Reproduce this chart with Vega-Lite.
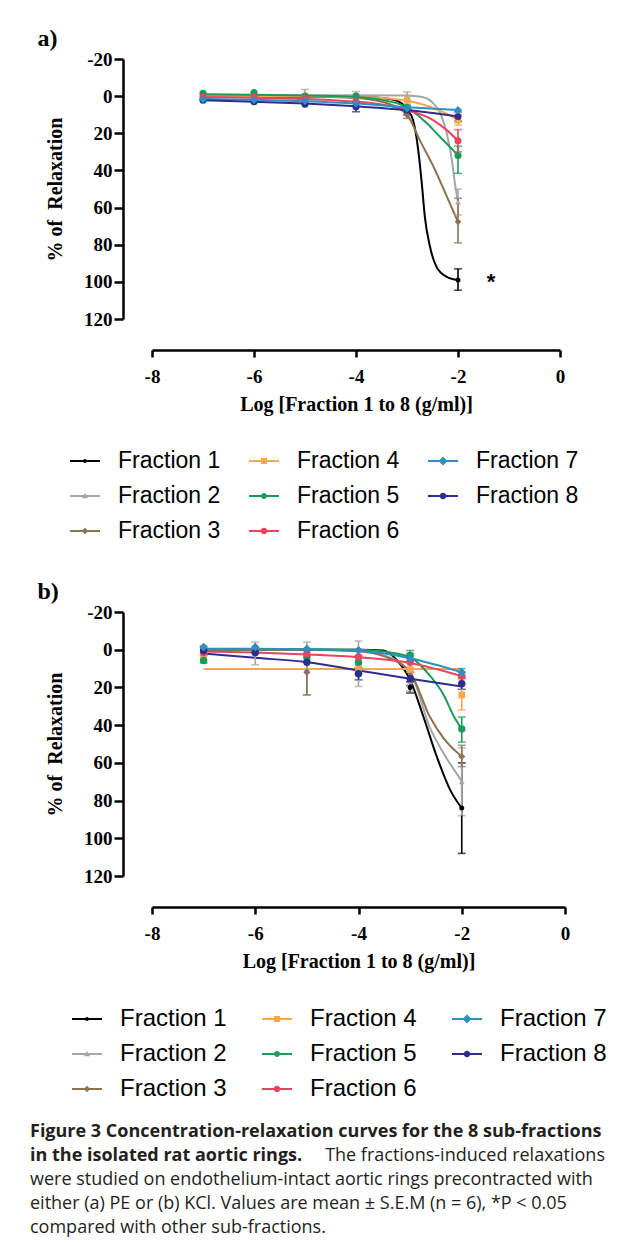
{
  "$schema": "https://vega.github.io/schema/vega-lite/v6.json",
  "background": "white",
  "padding": {"left": 30, "top": 27, "right": 0, "bottom": 0},
  "config": {
    "view": {"stroke": null},
    "axis": {
      "grid": false,
      "domainColor": "#000", "domainWidth": 2.5,
      "tickColor": "#000", "tickWidth": 2.5,
      "labelFont": "Liberation Serif", "labelFontSize": 19, "labelFontWeight": "bold", "labelColor": "#000",
      "titleFont": "Liberation Serif", "titleFontSize": 20, "titleFontWeight": "bold", "titleColor": "#000",
      "labelFlush": false
    },
    "axisX": {"offset": 31, "tickSize": 7, "labelPadding": 10, "titlePadding": 8},
    "axisY": {"offset": 29, "tickSize": 9, "labelPadding": 2, "titlePadding": 18}
  },
  "datasets": {
    "curvesA": [
      {"Fraction": "Fraction 1", "logc": -7, "v": 0.3}, {"Fraction": "Fraction 1", "logc": -6, "v": 0.3}, {"Fraction": "Fraction 1", "logc": -5, "v": 0.3}, {"Fraction": "Fraction 1", "logc": -4, "v": 0.5}, {"Fraction": "Fraction 1", "logc": -3.5, "v": 1}, {"Fraction": "Fraction 1", "logc": -3.2, "v": 2.5}, {"Fraction": "Fraction 1", "logc": -3, "v": 7}, {"Fraction": "Fraction 1", "logc": -2.88, "v": 13}, {"Fraction": "Fraction 1", "logc": -2.78, "v": 29}, {"Fraction": "Fraction 1", "logc": -2.71, "v": 47}, {"Fraction": "Fraction 1", "logc": -2.65, "v": 65}, {"Fraction": "Fraction 1", "logc": -2.55, "v": 81}, {"Fraction": "Fraction 1", "logc": -2.42, "v": 92}, {"Fraction": "Fraction 1", "logc": -2.22, "v": 97.3}, {"Fraction": "Fraction 1", "logc": -2, "v": 99},
      {"Fraction": "Fraction 2", "logc": -7, "v": -0.5}, {"Fraction": "Fraction 2", "logc": -5, "v": -0.5}, {"Fraction": "Fraction 2", "logc": -4, "v": -0.5}, {"Fraction": "Fraction 2", "logc": -3, "v": -0.3}, {"Fraction": "Fraction 2", "logc": -2.7, "v": 0.5}, {"Fraction": "Fraction 2", "logc": -2.48, "v": 4}, {"Fraction": "Fraction 2", "logc": -2.35, "v": 9}, {"Fraction": "Fraction 2", "logc": -2.22, "v": 20}, {"Fraction": "Fraction 2", "logc": -2.12, "v": 34.5}, {"Fraction": "Fraction 2", "logc": -2.06, "v": 47}, {"Fraction": "Fraction 2", "logc": -2, "v": 57},
      {"Fraction": "Fraction 3", "logc": -7, "v": 0}, {"Fraction": "Fraction 3", "logc": -5, "v": 0.2}, {"Fraction": "Fraction 3", "logc": -4, "v": 1}, {"Fraction": "Fraction 3", "logc": -3.5, "v": 3}, {"Fraction": "Fraction 3", "logc": -3, "v": 10}, {"Fraction": "Fraction 3", "logc": -2.75, "v": 23.7}, {"Fraction": "Fraction 3", "logc": -2.48, "v": 38}, {"Fraction": "Fraction 3", "logc": -2.22, "v": 54}, {"Fraction": "Fraction 3", "logc": -2, "v": 67.7},
      {"Fraction": "Fraction 4", "logc": -7, "v": 0}, {"Fraction": "Fraction 4", "logc": -5, "v": 0}, {"Fraction": "Fraction 4", "logc": -4, "v": 0.3}, {"Fraction": "Fraction 4", "logc": -3.5, "v": 1}, {"Fraction": "Fraction 4", "logc": -3, "v": 2.5}, {"Fraction": "Fraction 4", "logc": -2.75, "v": 4}, {"Fraction": "Fraction 4", "logc": -2.48, "v": 6.5}, {"Fraction": "Fraction 4", "logc": -2.22, "v": 9.5}, {"Fraction": "Fraction 4", "logc": -2, "v": 13},
      {"Fraction": "Fraction 5", "logc": -7, "v": -1}, {"Fraction": "Fraction 5", "logc": -6, "v": -0.8}, {"Fraction": "Fraction 5", "logc": -5, "v": -0.3}, {"Fraction": "Fraction 5", "logc": -4, "v": 0.5}, {"Fraction": "Fraction 5", "logc": -3.5, "v": 2}, {"Fraction": "Fraction 5", "logc": -3, "v": 6}, {"Fraction": "Fraction 5", "logc": -2.61, "v": 14.6}, {"Fraction": "Fraction 5", "logc": -2.35, "v": 22}, {"Fraction": "Fraction 5", "logc": -2.16, "v": 27.3}, {"Fraction": "Fraction 5", "logc": -2, "v": 32},
      {"Fraction": "Fraction 6", "logc": -7, "v": 0.5}, {"Fraction": "Fraction 6", "logc": -6, "v": 0.8}, {"Fraction": "Fraction 6", "logc": -5, "v": 1.5}, {"Fraction": "Fraction 6", "logc": -4, "v": 3}, {"Fraction": "Fraction 6", "logc": -3.5, "v": 4.5}, {"Fraction": "Fraction 6", "logc": -3, "v": 7.5}, {"Fraction": "Fraction 6", "logc": -2.48, "v": 13}, {"Fraction": "Fraction 6", "logc": -2.22, "v": 18.3}, {"Fraction": "Fraction 6", "logc": -2, "v": 24},
      {"Fraction": "Fraction 7", "logc": -7, "v": 1.5}, {"Fraction": "Fraction 7", "logc": -6, "v": 2}, {"Fraction": "Fraction 7", "logc": -5, "v": 2.8}, {"Fraction": "Fraction 7", "logc": -4, "v": 4}, {"Fraction": "Fraction 7", "logc": -3, "v": 6}, {"Fraction": "Fraction 7", "logc": -2, "v": 7.5},
      {"Fraction": "Fraction 8", "logc": -7, "v": 2.2}, {"Fraction": "Fraction 8", "logc": -6, "v": 3}, {"Fraction": "Fraction 8", "logc": -5, "v": 4}, {"Fraction": "Fraction 8", "logc": -4, "v": 5.5}, {"Fraction": "Fraction 8", "logc": -3, "v": 7.5}, {"Fraction": "Fraction 8", "logc": -2, "v": 11}
    ],
    "ptsA": [
      {"Fraction": "Fraction 1", "logc": -7, "v": 0}, {"Fraction": "Fraction 1", "logc": -6, "v": 0}, {"Fraction": "Fraction 1", "logc": -5, "v": 0}, {"Fraction": "Fraction 1", "logc": -4, "v": 0.5}, {"Fraction": "Fraction 1", "logc": -3, "v": 9}, {"Fraction": "Fraction 1", "logc": -2, "v": 99, "lo": 93, "hi": 104.5},
      {"Fraction": "Fraction 2", "logc": -7, "v": 0}, {"Fraction": "Fraction 2", "logc": -6, "v": 0}, {"Fraction": "Fraction 2", "logc": -5, "v": -0.5, "lo": -3.6, "hi": 2}, {"Fraction": "Fraction 2", "logc": -4, "v": -0.5, "lo": -2.5, "hi": 1.5}, {"Fraction": "Fraction 2", "logc": -3, "v": -0.3, "lo": -2.3, "hi": 2}, {"Fraction": "Fraction 2", "logc": -2, "v": 57, "lo": 50, "hi": 64},
      {"Fraction": "Fraction 3", "logc": -7, "v": 0}, {"Fraction": "Fraction 3", "logc": -6, "v": 0}, {"Fraction": "Fraction 3", "logc": -5, "v": 0.5}, {"Fraction": "Fraction 3", "logc": -4, "v": 1}, {"Fraction": "Fraction 3", "logc": -3, "v": 10, "lo": 7, "hi": 12}, {"Fraction": "Fraction 3", "logc": -2, "v": 67.7, "lo": 55, "hi": 79},
      {"Fraction": "Fraction 4", "logc": -7, "v": 0}, {"Fraction": "Fraction 4", "logc": -6, "v": 0}, {"Fraction": "Fraction 4", "logc": -5, "v": 0}, {"Fraction": "Fraction 4", "logc": -4, "v": 0}, {"Fraction": "Fraction 4", "logc": -3, "v": 2, "lo": -0.5, "hi": 4}, {"Fraction": "Fraction 4", "logc": -2, "v": 13, "lo": 10, "hi": 15.6},
      {"Fraction": "Fraction 5", "logc": -7, "v": -1.5}, {"Fraction": "Fraction 5", "logc": -6, "v": -2}, {"Fraction": "Fraction 5", "logc": -5, "v": 0}, {"Fraction": "Fraction 5", "logc": -4, "v": 0}, {"Fraction": "Fraction 5", "logc": -3, "v": 6}, {"Fraction": "Fraction 5", "logc": -2, "v": 32, "lo": 27, "hi": 41.6},
      {"Fraction": "Fraction 6", "logc": -7, "v": 0.5}, {"Fraction": "Fraction 6", "logc": -6, "v": 0.5}, {"Fraction": "Fraction 6", "logc": -5, "v": 1}, {"Fraction": "Fraction 6", "logc": -4, "v": 3}, {"Fraction": "Fraction 6", "logc": -3, "v": 7.5}, {"Fraction": "Fraction 6", "logc": -2, "v": 24, "lo": 18, "hi": 30},
      {"Fraction": "Fraction 7", "logc": -7, "v": 1.7}, {"Fraction": "Fraction 7", "logc": -6, "v": 2}, {"Fraction": "Fraction 7", "logc": -5, "v": 2.5}, {"Fraction": "Fraction 7", "logc": -4, "v": 4}, {"Fraction": "Fraction 7", "logc": -3, "v": 6.5}, {"Fraction": "Fraction 7", "logc": -2, "v": 7.5},
      {"Fraction": "Fraction 8", "logc": -7, "v": 2.2}, {"Fraction": "Fraction 8", "logc": -6, "v": 3}, {"Fraction": "Fraction 8", "logc": -5, "v": 4.3}, {"Fraction": "Fraction 8", "logc": -4, "v": 5.7, "lo": 3, "hi": 8.4}, {"Fraction": "Fraction 8", "logc": -3, "v": 7.5, "lo": 5, "hi": 10}, {"Fraction": "Fraction 8", "logc": -2, "v": 11, "lo": 8.5, "hi": 13.5}
    ],
    "curvesB": [
      {"Fraction": "Fraction 1", "logc": -7, "v": 0}, {"Fraction": "Fraction 1", "logc": -5, "v": 0}, {"Fraction": "Fraction 1", "logc": -4, "v": 0}, {"Fraction": "Fraction 1", "logc": -3.52, "v": 0.4}, {"Fraction": "Fraction 1", "logc": -3.25, "v": 5.7}, {"Fraction": "Fraction 1", "logc": -3, "v": 16}, {"Fraction": "Fraction 1", "logc": -2.74, "v": 35.7}, {"Fraction": "Fraction 1", "logc": -2.48, "v": 57}, {"Fraction": "Fraction 1", "logc": -2.22, "v": 74.6}, {"Fraction": "Fraction 1", "logc": -2, "v": 84},
      {"Fraction": "Fraction 2", "logc": -7, "v": 0}, {"Fraction": "Fraction 2", "logc": -5, "v": 0}, {"Fraction": "Fraction 2", "logc": -4, "v": 0.5}, {"Fraction": "Fraction 2", "logc": -3.5, "v": 3}, {"Fraction": "Fraction 2", "logc": -3, "v": 12}, {"Fraction": "Fraction 2", "logc": -2.61, "v": 41.7}, {"Fraction": "Fraction 2", "logc": -2.35, "v": 55}, {"Fraction": "Fraction 2", "logc": -2, "v": 69.6},
      {"Fraction": "Fraction 3", "logc": -7, "v": 0}, {"Fraction": "Fraction 3", "logc": -5, "v": 0}, {"Fraction": "Fraction 3", "logc": -4, "v": 0.8}, {"Fraction": "Fraction 3", "logc": -3.5, "v": 3.5}, {"Fraction": "Fraction 3", "logc": -3, "v": 12}, {"Fraction": "Fraction 3", "logc": -2.61, "v": 36}, {"Fraction": "Fraction 3", "logc": -2.35, "v": 47}, {"Fraction": "Fraction 3", "logc": -2, "v": 56.6},
      {"Fraction": "Fraction 4", "logc": -7, "v": 10.2}, {"Fraction": "Fraction 4", "logc": -2, "v": 10.2},
      {"Fraction": "Fraction 5", "logc": -7, "v": -0.3}, {"Fraction": "Fraction 5", "logc": -5, "v": -0.3}, {"Fraction": "Fraction 5", "logc": -4, "v": 0}, {"Fraction": "Fraction 5", "logc": -3.5, "v": 1}, {"Fraction": "Fraction 5", "logc": -3, "v": 4}, {"Fraction": "Fraction 5", "logc": -2.61, "v": 14}, {"Fraction": "Fraction 5", "logc": -2.35, "v": 24}, {"Fraction": "Fraction 5", "logc": -2.16, "v": 35}, {"Fraction": "Fraction 5", "logc": -2, "v": 42},
      {"Fraction": "Fraction 6", "logc": -7, "v": 1}, {"Fraction": "Fraction 6", "logc": -6, "v": 1.5}, {"Fraction": "Fraction 6", "logc": -5, "v": 2.5}, {"Fraction": "Fraction 6", "logc": -4, "v": 4}, {"Fraction": "Fraction 6", "logc": -3, "v": 7}, {"Fraction": "Fraction 6", "logc": -2, "v": 14},
      {"Fraction": "Fraction 7", "logc": -7, "v": -0.5}, {"Fraction": "Fraction 7", "logc": -6, "v": -0.5}, {"Fraction": "Fraction 7", "logc": -5, "v": -0.3}, {"Fraction": "Fraction 7", "logc": -4, "v": 0.5}, {"Fraction": "Fraction 7", "logc": -3, "v": 4.5}, {"Fraction": "Fraction 7", "logc": -2.5, "v": 8}, {"Fraction": "Fraction 7", "logc": -2, "v": 12},
      {"Fraction": "Fraction 8", "logc": -7, "v": 2}, {"Fraction": "Fraction 8", "logc": -6, "v": 4.3}, {"Fraction": "Fraction 8", "logc": -5, "v": 6.6}, {"Fraction": "Fraction 8", "logc": -4, "v": 11}, {"Fraction": "Fraction 8", "logc": -3, "v": 15.4}, {"Fraction": "Fraction 8", "logc": -2, "v": 19.5}
    ],
    "ptsB": [
      {"Fraction": "Fraction 1", "logc": -7, "v": 0}, {"Fraction": "Fraction 1", "logc": -6, "v": 0}, {"Fraction": "Fraction 1", "logc": -5, "v": 0}, {"Fraction": "Fraction 1", "logc": -4, "v": 0}, {"Fraction": "Fraction 1", "logc": -3, "v": 20, "lo": 17, "hi": 23}, {"Fraction": "Fraction 1", "logc": -2, "v": 84, "lo": 60, "hi": 108},
      {"Fraction": "Fraction 2", "logc": -7, "v": 0, "lo": -2, "hi": 2}, {"Fraction": "Fraction 2", "logc": -6, "v": 2, "lo": -4, "hi": 8}, {"Fraction": "Fraction 2", "logc": -5, "v": 10, "lo": -4, "hi": 24}, {"Fraction": "Fraction 2", "logc": -4, "v": 8, "lo": -4.6, "hi": 19.5}, {"Fraction": "Fraction 2", "logc": -3, "v": 17, "lo": 12, "hi": 22}, {"Fraction": "Fraction 2", "logc": -2, "v": 70, "lo": 52, "hi": 88},
      {"Fraction": "Fraction 3", "logc": -7, "v": 1}, {"Fraction": "Fraction 3", "logc": -6, "v": 2}, {"Fraction": "Fraction 3", "logc": -5, "v": 12, "lo": 0, "hi": 24}, {"Fraction": "Fraction 3", "logc": -4, "v": 8, "lo": 3, "hi": 13}, {"Fraction": "Fraction 3", "logc": -3, "v": 12, "lo": 2, "hi": 23}, {"Fraction": "Fraction 3", "logc": -2, "v": 56.6, "lo": 50.7, "hi": 62},
      {"Fraction": "Fraction 4", "logc": -7, "v": 4.7}, {"Fraction": "Fraction 4", "logc": -6, "v": 1}, {"Fraction": "Fraction 4", "logc": -5, "v": 4}, {"Fraction": "Fraction 4", "logc": -4, "v": 10}, {"Fraction": "Fraction 4", "logc": -3, "v": 10.5}, {"Fraction": "Fraction 4", "logc": -2, "v": 24, "lo": 16, "hi": 32},
      {"Fraction": "Fraction 5", "logc": -7, "v": 5.7, "lo": 3, "hi": 7}, {"Fraction": "Fraction 5", "logc": -6, "v": 1}, {"Fraction": "Fraction 5", "logc": -5, "v": 3.9}, {"Fraction": "Fraction 5", "logc": -4, "v": 6.6}, {"Fraction": "Fraction 5", "logc": -3, "v": 3, "lo": 0.4, "hi": 6}, {"Fraction": "Fraction 5", "logc": -2, "v": 42, "lo": 35.7, "hi": 49},
      {"Fraction": "Fraction 6", "logc": -7, "v": 1.5}, {"Fraction": "Fraction 6", "logc": -6, "v": 1.3}, {"Fraction": "Fraction 6", "logc": -5, "v": 2}, {"Fraction": "Fraction 6", "logc": -4, "v": 3.9}, {"Fraction": "Fraction 6", "logc": -3, "v": 6.6}, {"Fraction": "Fraction 6", "logc": -2, "v": 14},
      {"Fraction": "Fraction 7", "logc": -7, "v": -1.4}, {"Fraction": "Fraction 7", "logc": -6, "v": -1.4}, {"Fraction": "Fraction 7", "logc": -5, "v": -0.5}, {"Fraction": "Fraction 7", "logc": -4, "v": 0.4}, {"Fraction": "Fraction 7", "logc": -3, "v": 4.8}, {"Fraction": "Fraction 7", "logc": -2, "v": 11.9, "lo": 10, "hi": 14},
      {"Fraction": "Fraction 8", "logc": -7, "v": 0.4}, {"Fraction": "Fraction 8", "logc": -6, "v": 1.5}, {"Fraction": "Fraction 8", "logc": -5, "v": 6.6}, {"Fraction": "Fraction 8", "logc": -4, "v": 12.7, "lo": 9.5, "hi": 16}, {"Fraction": "Fraction 8", "logc": -3, "v": 15.4, "lo": 12, "hi": 19}, {"Fraction": "Fraction 8", "logc": -2, "v": 18, "lo": 15, "hi": 21}
    ],
    "noteA": [{"logc": -1.35, "v": 100, "label": "*"}],
    "caption": [
      {"line": 1, "part": "head", "text": "Figure 3 Concentration-relaxation curves for the 8 sub-fractions"},
      {"line": 2, "part": "head", "text": "in the isolated rat aortic rings."},
      {"line": 2, "part": "tail", "text": "The fractions-induced relaxations"},
      {"line": 3, "part": "body", "text": "were studied on endothelium-intact aortic rings precontracted with"},
      {"line": 4, "part": "body", "text": "either (a) PE or (b) KCl. Values are mean ± S.E.M (n = 6), *P < 0.05"},
      {"line": 5, "part": "body", "text": "compared with other sub-fractions."}
    ]
  },
  "spacing": 19,
  "vconcat": [
    {
      "spacing": 37,
      "resolve": {"legend": {"color": "independent", "shape": "independent"}},
      "vconcat": [
        {
          "title": {"text": "a)", "anchor": "start", "frame": "bounds", "font": "Liberation Serif", "fontSize": 24, "fontWeight": "bold", "color": "#000", "offset": -1, "dx": -8},
          "width": 408, "height": 260,
          "encoding": {
            "x": {"field": "logc", "type": "quantitative", "scale": {"domain": [-8, 0], "nice": false, "zero": false}, "axis": {"title": "Log [Fraction 1 to 8 (g/ml)]", "values": [-8, -6, -4, -2, 0], "labelExpr": "'' + datum.value"}},
            "y": {"field": "v", "type": "quantitative", "scale": {"domain": [-20, 120], "reverse": true, "nice": false, "zero": false}, "axis": {"title": "% of\u00a0 Relaxation", "values": [-20, 0, 20, 40, 60, 80, 100, 120], "labelExpr": "'' + datum.value"}}
          },
          "layer": [
            {"data": {"name": "ptsA"}, "transform": [{"filter": "false"}], "mark": {"type": "point", "filled": true, "opacity": 1},
             "encoding": {
               "color": {"field": "Fraction", "type": "nominal", "scale": {"domain": ["Fraction 1", "Fraction 2", "Fraction 3", "Fraction 4", "Fraction 5", "Fraction 6", "Fraction 7", "Fraction 8"], "range": ["#000000", "#a6a6a6", "#8c7153", "#f6a84c", "#1b9a5a", "#e8435f", "#2e8fc0", "#2c2e8f"]}, "legend": {"title": null, "orient": "none", "legendX": -82, "legendY": 387, "columns": 3, "symbolSize": 900, "symbolStrokeWidth": 0, "labelFont": "Liberation Sans", "labelFontSize": 23, "labelColor": "#000", "labelOffset": 18, "columnPadding": 28, "rowPadding": 8, "labelLimit": 300}},
               "shape": {"field": "Fraction", "type": "nominal", "scale": {"domain": ["Fraction 1", "Fraction 2", "Fraction 3", "Fraction 4", "Fraction 5", "Fraction 6", "Fraction 7", "Fraction 8"], "range": [
                 "M-1,-0.06H1V0.06H-1ZM0.13,0A0.13,0.13 0 1,1 -0.13,0A0.13,0.13 0 1,1 0.13,0Z",
                 "M-1,-0.06H1V0.06H-1ZM0,-0.2L0.2,0.15H-0.2Z",
                 "M-1,-0.06H1V0.06H-1ZM0,-0.22L0.22,0L0,0.22L-0.22,0Z",
                 "M-1,-0.06H1V0.06H-1ZM-0.2,-0.2H0.2V0.2H-0.2Z",
                 "M-1,-0.06H1V0.06H-1ZM0.2,0A0.2,0.2 0 1,1 -0.2,0A0.2,0.2 0 1,1 0.2,0Z",
                 "M-1,-0.06H1V0.06H-1ZM0.22,0A0.22,0.22 0 1,1 -0.22,0A0.22,0.22 0 1,1 0.22,0Z",
                 "M-1,-0.06H1V0.06H-1ZM0,-0.3L0.3,0L0,0.3L-0.3,0Z",
                 "M-1,-0.06H1V0.06H-1ZM0.22,0A0.22,0.22 0 1,1 -0.22,0A0.22,0.22 0 1,1 0.22,0Z"
               ]}, "legend": {"title": null, "orient": "none", "legendX": -82, "legendY": 387, "columns": 3, "symbolSize": 900, "symbolStrokeWidth": 0, "labelFont": "Liberation Sans", "labelFontSize": 23, "labelColor": "#000", "labelOffset": 18, "columnPadding": 28, "rowPadding": 8, "labelLimit": 300}}
             }},
            {"data": {"name": "curvesA"}, "mark": {"type": "line", "strokeWidth": 2, "interpolate": "monotone"}, "encoding": {"color": {"field": "Fraction", "type": "nominal", "legend": null}}},
            {"data": {"name": "ptsA"}, "transform": [{"filter": "isValid(datum.lo)"}], "mark": {"type": "errorbar", "ticks": {"size": 8}, "thickness": 1.6}, "encoding": {"y": {"field": "lo", "type": "quantitative", "title": "% of\u00a0 Relaxation"}, "y2": {"field": "hi"}, "color": {"field": "Fraction", "type": "nominal", "legend": null}}},
            {"data": {"name": "ptsA"}, "transform": [{"filter": {"field": "Fraction", "oneOf": ["Fraction 1"]}}], "mark": {"type": "point", "shape": "circle", "filled": true, "opacity": 1, "size": 25}, "encoding": {"color": {"field": "Fraction", "type": "nominal", "legend": null}}},
            {"data": {"name": "ptsA"}, "transform": [{"filter": {"field": "Fraction", "oneOf": ["Fraction 2"]}}], "mark": {"type": "point", "shape": "triangle-up", "filled": true, "opacity": 1, "size": 35}, "encoding": {"color": {"field": "Fraction", "type": "nominal", "legend": null}}},
            {"data": {"name": "ptsA"}, "transform": [{"filter": {"field": "Fraction", "oneOf": ["Fraction 3"]}}], "mark": {"type": "point", "shape": "diamond", "filled": true, "opacity": 1, "size": 45}, "encoding": {"color": {"field": "Fraction", "type": "nominal", "legend": null}}},
            {"data": {"name": "ptsA"}, "transform": [{"filter": {"field": "Fraction", "oneOf": ["Fraction 4"]}}], "mark": {"type": "point", "shape": "square", "filled": true, "opacity": 1, "size": 40}, "encoding": {"color": {"field": "Fraction", "type": "nominal", "legend": null}}},
            {"data": {"name": "ptsA"}, "transform": [{"filter": {"field": "Fraction", "oneOf": ["Fraction 5", "Fraction 6", "Fraction 8"]}}], "mark": {"type": "point", "shape": "circle", "filled": true, "opacity": 1, "size": 50}, "encoding": {"color": {"field": "Fraction", "type": "nominal", "legend": null}}},
            {"data": {"name": "ptsA"}, "transform": [{"filter": {"field": "Fraction", "oneOf": ["Fraction 7"]}}], "mark": {"type": "point", "shape": "diamond", "filled": true, "opacity": 1, "size": 70}, "encoding": {"color": {"field": "Fraction", "type": "nominal", "legend": null}}},
            {"data": {"name": "noteA"}, "mark": {"type": "text", "font": "Liberation Sans", "fontSize": 22, "fontWeight": "bold", "color": "#000", "baseline": "middle", "align": "center"}, "encoding": {"text": {"field": "label"}}}
          ]
        },
        {
          "title": {"text": "b)", "anchor": "start", "frame": "bounds", "font": "Liberation Serif", "fontSize": 24, "fontWeight": "bold", "color": "#000", "offset": -1, "dx": -8},
          "width": 413, "height": 264,
          "encoding": {
            "x": {"field": "logc", "type": "quantitative", "scale": {"domain": [-8, 0], "nice": false, "zero": false}, "axis": {"title": "Log [Fraction 1 to 8 (g/ml)]", "values": [-8, -6, -4, -2, 0], "labelExpr": "'' + datum.value"}},
            "y": {"field": "v", "type": "quantitative", "scale": {"domain": [-20, 120], "reverse": true, "nice": false, "zero": false}, "axis": {"title": "% of\u00a0 Relaxation", "values": [-20, 0, 20, 40, 60, 80, 100, 120], "labelExpr": "'' + datum.value"}}
          },
          "layer": [
            {"data": {"name": "ptsB"}, "transform": [{"filter": "false"}], "mark": {"type": "point", "filled": true, "opacity": 1},
             "encoding": {
               "color": {"field": "Fraction", "type": "nominal", "legend": {"title": null, "orient": "none", "legendX": -80, "legendY": 392, "columns": 3, "symbolSize": 900, "symbolStrokeWidth": 0, "labelFont": "Liberation Sans", "labelFontSize": 24, "labelColor": "#000", "labelOffset": 18, "columnPadding": 35, "rowPadding": 8, "labelLimit": 300}},
               "shape": {"field": "Fraction", "type": "nominal", "legend": {"title": null, "orient": "none", "legendX": -80, "legendY": 392, "columns": 3, "symbolSize": 900, "symbolStrokeWidth": 0, "labelFont": "Liberation Sans", "labelFontSize": 24, "labelColor": "#000", "labelOffset": 18, "columnPadding": 35, "rowPadding": 8, "labelLimit": 300}}
             }},
            {"data": {"name": "curvesB"}, "mark": {"type": "line", "strokeWidth": 2, "interpolate": "monotone"}, "encoding": {"color": {"field": "Fraction", "type": "nominal", "legend": null}}},
            {"data": {"name": "ptsB"}, "transform": [{"filter": "isValid(datum.lo)"}], "mark": {"type": "errorbar", "ticks": {"size": 8}, "thickness": 1.6}, "encoding": {"y": {"field": "lo", "type": "quantitative", "title": "% of\u00a0 Relaxation"}, "y2": {"field": "hi"}, "color": {"field": "Fraction", "type": "nominal", "legend": null}}},
            {"data": {"name": "ptsB"}, "transform": [{"filter": {"field": "Fraction", "oneOf": ["Fraction 1"]}}], "mark": {"type": "point", "shape": "circle", "filled": true, "opacity": 1, "size": 25}, "encoding": {"color": {"field": "Fraction", "type": "nominal", "legend": null}}},
            {"data": {"name": "ptsB"}, "transform": [{"filter": {"field": "Fraction", "oneOf": ["Fraction 2"]}}], "mark": {"type": "point", "shape": "triangle-up", "filled": true, "opacity": 1, "size": 35}, "encoding": {"color": {"field": "Fraction", "type": "nominal", "legend": null}}},
            {"data": {"name": "ptsB"}, "transform": [{"filter": {"field": "Fraction", "oneOf": ["Fraction 3"]}}], "mark": {"type": "point", "shape": "diamond", "filled": true, "opacity": 1, "size": 50}, "encoding": {"color": {"field": "Fraction", "type": "nominal", "legend": null}}},
            {"data": {"name": "ptsB"}, "transform": [{"filter": {"field": "Fraction", "oneOf": ["Fraction 4"]}}], "mark": {"type": "point", "shape": "square", "filled": true, "opacity": 1, "size": 45}, "encoding": {"color": {"field": "Fraction", "type": "nominal", "legend": null}}},
            {"data": {"name": "ptsB"}, "transform": [{"filter": {"field": "Fraction", "oneOf": ["Fraction 5", "Fraction 6", "Fraction 8"]}}], "mark": {"type": "point", "shape": "circle", "filled": true, "opacity": 1, "size": 55}, "encoding": {"color": {"field": "Fraction", "type": "nominal", "legend": null}}},
            {"data": {"name": "ptsB"}, "transform": [{"filter": {"field": "Fraction", "oneOf": ["Fraction 7"]}}], "mark": {"type": "point", "shape": "diamond", "filled": true, "opacity": 1, "size": 75}, "encoding": {"color": {"field": "Fraction", "type": "nominal", "legend": null}}}
          ]
        }
      ]
    },
    {
      "width": 575, "height": 120,
      "data": {"name": "caption"},
      "encoding": {
        "y": {"field": "line", "type": "ordinal", "axis": null, "scale": {"paddingInner": 0, "paddingOuter": 0}},
        "text": {"field": "text"}
      },
      "layer": [
        {"transform": [{"filter": "datum.part == 'head'"}], "mark": {"type": "text", "align": "left", "baseline": "middle", "font": "Open Sans", "fontSize": 18, "fontWeight": "bold", "color": "#231f20", "dx": -122}, "encoding": {"x": {"datum": 0, "type": "quantitative", "scale": {"domain": [0, 1]}, "axis": null}}},
        {"transform": [{"filter": "datum.part == 'body'"}], "mark": {"type": "text", "align": "left", "baseline": "middle", "font": "Open Sans", "fontSize": 18, "color": "#231f20", "dx": -122}, "encoding": {"x": {"datum": 0, "type": "quantitative", "scale": {"domain": [0, 1]}, "axis": null}}},
        {"transform": [{"filter": "datum.part == 'tail'"}], "mark": {"type": "text", "align": "right", "baseline": "middle", "font": "Open Sans", "fontSize": 18, "color": "#231f20", "dx": -122}, "encoding": {"x": {"datum": 1, "type": "quantitative", "scale": {"domain": [0, 1]}, "axis": null}}}
      ]
    }
  ]
}
